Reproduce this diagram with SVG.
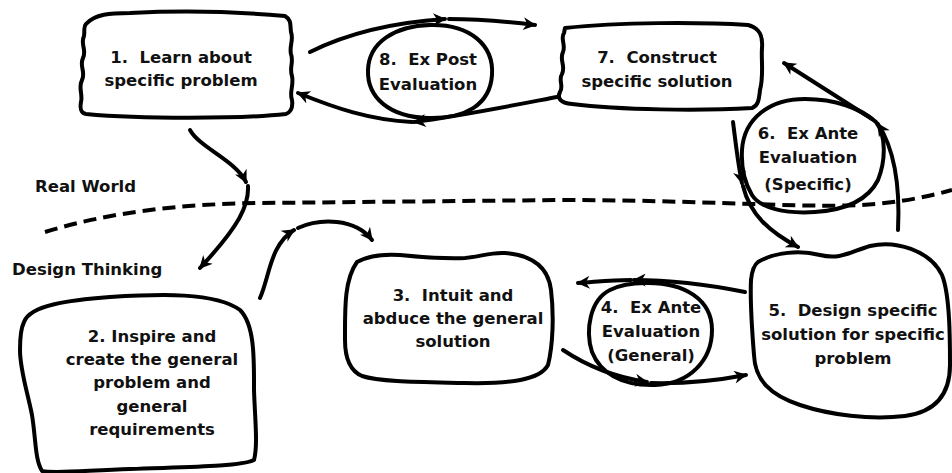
<svg xmlns="http://www.w3.org/2000/svg" width="952" height="473" viewBox="0 0 952 473">
<style>
.n{fill:#fff;stroke:#000;stroke-width:4;stroke-linejoin:round}
.o{fill:none}
.t{font-family:"DejaVu Sans","Liberation Sans",sans-serif;font-weight:bold;font-size:16.5px;fill:#111;text-anchor:middle;white-space:pre}
.lbl{font-family:"DejaVu Sans","Liberation Sans",sans-serif;font-weight:bold;font-size:16.5px;fill:#111}
.c{fill:none;stroke:#000;stroke-width:4;stroke-linecap:round;marker-end:url(#ah)}
.d{fill:none;stroke:#000;stroke-width:4;stroke-dasharray:13 7}
</style>
<defs>
<marker id="ah" viewBox="0 0 10 10" refX="9" refY="5" markerUnits="userSpaceOnUse" markerWidth="15" markerHeight="13" orient="auto">
<path d="M0,0 L10,5 L0,10 L3,5 Z" fill="#000"/>
</marker>
</defs>
<rect width="952" height="473" fill="#fff"/>
<path class="d" d="M45,232 C110,212 180,204 260,203 L560,200 C700,200 800,208 860,205 C900,203 930,196 952,190"/>
<text class="lbl" x="35" y="192">Real World</text>
<text class="lbl" x="12" y="275">Design Thinking</text>
<g id="node1">
<path class="n" d="M86,24 C95,14 110,13 130,13 C170,11 230,11 285,16 C292,20 290,26 291,32 C294,40 289,46 291,54 C294,62 289,68 292,76 C294,86 289,92 292,100 C293,107 291,112 286,114 C240,119 140,119 86,114 C80,113 80,108 81,102 C83,94 78,88 82,80 C86,72 79,66 83,58 C87,50 80,44 84,36 C85,30 83,27 86,24 Z"/>
<text class="t" x="181" y="63">1.  Learn about</text>
<text class="t" x="181" y="86">specific problem</text>
</g>
<g id="node8">
<path class="n" d="M430,25 C470,24 494,45 492,75 C490,105 465,119 428,118 C390,117 367,98 368,70 C369,42 395,26 430,25 Z"/>
<text class="t" x="428" y="65">8.  Ex Post</text>
<text class="t" x="428" y="90">Evaluation</text>
</g>
<g id="node7">
<path class="n" d="M565,28 C620,22 700,22 748,25 C760,28 763,36 762,48 C761,60 764,75 760,90 C759,100 758,106 752,108 C700,111 620,110 572,104 C560,103 557,98 560,92 C564,86 558,80 562,74 C566,66 559,60 563,52 C566,45 560,38 564,33 Z"/>
<text class="t" x="657" y="63">7.  Construct</text>
<text class="t" x="657" y="87">specific solution</text>
</g>
<g id="node6">
<path class="n o" d="M742,150 C744,118 770,99 805,99 C835,99 860,108 876,122 C886,135 886,160 878,180 C868,200 845,210 815,212 C785,214 760,208 752,195 C744,182 741,168 742,150 Z"/>
<text class="t" x="808" y="139">6.  Ex Ante</text>
<text class="t" x="808" y="163">Evaluation</text>
<text class="t" x="808" y="190">(Specific)</text>
</g>
<g id="node2">
<path class="n" d="M24,322 C30,305 70,300 110,297 C160,294 215,292 240,310 C255,325 254,360 254,390 C255,420 258,445 254,460 C240,467 180,467 130,469 C90,470 55,474 42,471 C35,460 36,440 32,415 C27,390 20,370 20,350 C20,338 21,328 24,322 Z"/>
<text class="t" x="152" y="342">2. Inspire and</text>
<text class="t" x="152" y="365">create the general</text>
<text class="t" x="152" y="388">problem and</text>
<text class="t" x="152" y="412">general</text>
<text class="t" x="152" y="435">requirements</text>
</g>
<g id="node3">
<path class="n" d="M357,262 C370,255 385,254 400,255 C420,257 440,259 465,258 C480,257 490,252 505,253 C530,255 548,265 551,290 C554,315 553,345 548,365 C540,380 510,384 465,383 C420,382 380,382 362,376 C348,370 345,355 345,340 C345,310 344,280 357,262 Z"/>
<text class="t" x="453" y="301">3.  Intuit and</text>
<text class="t" x="453" y="324">abduce the general</text>
<text class="t" x="453" y="347">solution</text>
</g>
<g id="node4">
<path class="n" d="M645,283 C685,282 712,300 712,330 C712,360 690,384 655,385 C620,386 600,372 592,352 C585,330 590,300 610,290 C620,285 632,283 645,283 Z"/>
<text class="t" x="651" y="313">4.  Ex Ante</text>
<text class="t" x="651" y="337">Evaluation</text>
<text class="t" x="651" y="361">(General)</text>
</g>
<g id="node5">
<path class="n" d="M758,262 C775,252 800,250 820,255 C840,260 850,252 870,246 C895,240 930,250 942,275 C950,295 950,340 950,365 C950,395 935,412 905,416 C870,420 830,415 800,405 C770,395 755,380 754,355 C752,330 750,300 751,280 C752,270 754,265 758,262 Z"/>
<text class="t" x="853" y="316">5.  Design specific</text>
<text class="t" x="853" y="340">solution for specific</text>
<text class="t" x="853" y="364">problem</text>
</g>
<g id="connectors">
<path class="c" d="M310,52 C350,32 400,22 445,19"/>
<path class="c" d="M449,19 C480,19 510,22 535,25"/>
<path class="c" d="M557,97 C510,106 460,116 414,122"/>
<path class="c" d="M412,122 C370,120 335,108 298,93"/>
<path class="c" d="M190,130 C200,148 235,160 246,182"/>
<path class="c" d="M248,186 C249,205 240,225 200,268"/>
<path class="c" d="M260,298 C270,275 270,245 294,230"/>
<path class="c" d="M298,228 C320,218 355,218 372,240"/>
<path class="c" d="M733,122 C736,145 738,165 742,183"/>
<path class="c" d="M743,186 C750,215 770,232 798,247"/>
<path class="c" d="M898,230 C900,190 895,150 878,124"/>
<path class="c" d="M872,119 L784,63"/>
<path class="c" d="M745,292 C710,285 670,280 634,280"/>
<path class="c" d="M631,280 C610,280 595,282 578,283"/>
<path class="c" d="M563,350 C590,368 620,378 647,382"/>
<path class="c" d="M651,383 C690,384 720,380 746,375"/>
</g>
</svg>
